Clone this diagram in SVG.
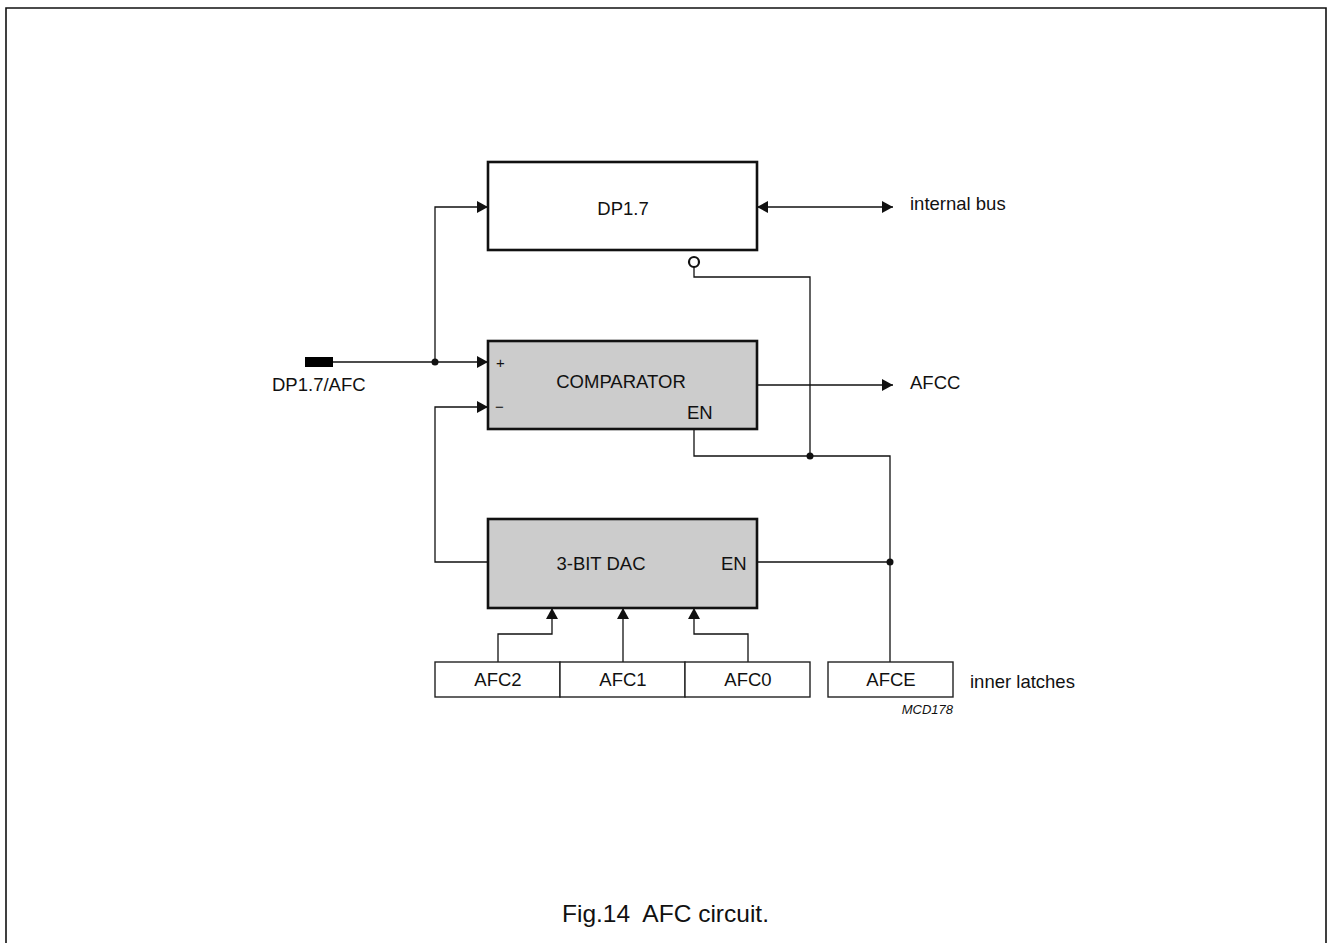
<svg xmlns="http://www.w3.org/2000/svg" width="1330" height="943" viewBox="0 0 1330 943">
<style>
text{font-family:"Liberation Sans",Arial,sans-serif;fill:#111;font-size:18.5px}
.box{stroke:#111;stroke-width:2.6;fill:#fff}
.gray{fill:#cccccc}
.latch{stroke:#222;stroke-width:1.4;fill:#fff}
.w{stroke:#111;stroke-width:1.3;fill:none}
.c{text-anchor:middle}
</style>
<defs>
<marker id="ah" viewBox="0 0 11 12" refX="11" refY="6" markerWidth="11" markerHeight="12" markerUnits="userSpaceOnUse" orient="auto">
<path d="M0,0 L11,6 L0,12 Z" fill="#111"/>
</marker>
<marker id="ahs" viewBox="0 0 11 12" refX="11" refY="6" markerWidth="11" markerHeight="12" markerUnits="userSpaceOnUse" orient="auto-start-reverse">
<path d="M0,0 L11,6 L0,12 Z" fill="#111"/>
</marker>
</defs>
<rect x="0" y="0" width="1330" height="943" fill="#fff"/>
<path d="M6,950 V8 H1326 V950" fill="none" stroke="#111" stroke-width="1.6"/>

<g id="connectors">
<rect x="305" y="357" width="28" height="10" fill="#000"/>
<path class="w" d="M333,362 H488" marker-end="url(#ah)"/>
<path class="w" d="M435,362 V207 H488" marker-end="url(#ah)"/>
<path class="w" d="M488,562 H435 V407 H488" marker-end="url(#ah)"/>
<path class="w" d="M757,207 H893" marker-start="url(#ahs)" marker-end="url(#ah)"/>
<path class="w" d="M757,385 H893" marker-end="url(#ah)"/>
<circle cx="694" cy="262" r="5" fill="#fff" stroke="#111" stroke-width="2.2"/>
<path class="w" d="M694,267 V277 H810 V456"/>
<path class="w" d="M694,429 V456 H890 V662"/>
<path class="w" d="M757,562 H890"/>
<circle cx="435" cy="362" r="3.5" fill="#111"/>
<circle cx="810" cy="456" r="3.5" fill="#111"/>
<circle cx="890" cy="562" r="3.5" fill="#111"/>
<path class="w" d="M498,662 V634 H552 V608" marker-end="url(#ah)"/>
<path class="w" d="M623,662 V608" marker-end="url(#ah)"/>
<path class="w" d="M748,662 V634 H694 V608" marker-end="url(#ah)"/>
</g>

<g id="dp17">
<rect class="box" x="488" y="162" width="269" height="88"/>
<text class="c" x="623" y="215">DP1.7</text>
</g>
<g id="comparator">
<rect class="box gray" x="488" y="341" width="269" height="88"/>
<text class="c" x="621" y="388">COMPARATOR</text>
<text x="496" y="368" style="font-size:15px">+</text>
<text x="495" y="412" style="font-size:15px">−</text>
<text x="687" y="419">EN</text>
</g>
<g id="dac">
<rect class="box gray" x="488" y="519" width="269" height="89"/>
<text class="c" x="601" y="570">3-BIT DAC</text>
<text x="721" y="570">EN</text>
</g>
<g id="afc2"><rect class="latch" x="435" y="662" width="125" height="35"/><text class="c" x="498" y="686">AFC2</text></g>
<g id="afc1"><rect class="latch" x="560" y="662" width="125" height="35"/><text class="c" x="623" y="686">AFC1</text></g>
<g id="afc0"><rect class="latch" x="685" y="662" width="125" height="35"/><text class="c" x="748" y="686">AFC0</text></g>
<g id="afce"><rect class="latch" x="828" y="662" width="125" height="35"/><text class="c" x="891" y="686">AFCE</text></g>

<g id="labels">
<text x="272" y="391">DP1.7/AFC</text>
<text x="910" y="210">internal bus</text>
<text x="910" y="389">AFCC</text>
<text x="970" y="688">inner latches</text>
<text x="953" y="714" style="font-size:13px;font-style:italic;text-anchor:end">MCD178</text>
<text x="562" y="922" style="font-size:24.5px;white-space:pre">Fig.14  AFC circuit.</text>
</g>
</svg>
